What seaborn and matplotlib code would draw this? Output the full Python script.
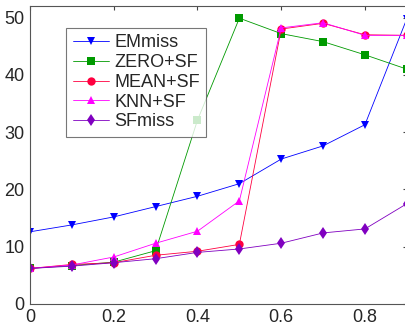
import matplotlib
matplotlib.use("Agg")
import matplotlib.pyplot as plt
import seaborn as sns
import pandas as pd

# missing rate on the x axis
rates = [0, 0.1, 0.2, 0.3, 0.4, 0.5, 0.6, 0.7, 0.8, 0.9]

em_miss = [12.6, 13.8, 15.2, 17.0, 18.8, 21.0, 25.3, 27.6, 31.3, 49.8]
zero_sf = [6.2, 6.7, 7.3, 9.3, 32.1, 49.9, 47.2, 45.8, 43.5, 41.0]
mean_sf = [6.2, 6.9, 7.2, 8.5, 9.2, 10.4, 48.0, 49.0, 47.0, 46.9]
knn_sf = [6.2, 6.8, 8.2, 10.6, 12.7, 18.0, 48.2, 49.1, 46.9, 46.9]
sf_miss = [6.2, 6.6, 7.2, 7.9, 9.0, 9.6, 10.6, 12.4, 13.1, 17.5]

series = ["EMmiss", "ZERO+SF", "MEAN+SF", "KNN+SF", "SFmiss"]
values = [em_miss, zero_sf, mean_sf, knn_sf, sf_miss]

rows = []
for name, vals in zip(series, values):
    for x, y in zip(rates, vals):
        rows.append({"rate": x, "value": y, "method": name})
df = pd.DataFrame(rows)

palette = {"EMmiss": "#0000ff", "ZERO+SF": "#009a00", "MEAN+SF": "#ff0040",
           "KNN+SF": "#ff00ff", "SFmiss": "#8000c0"}
markers = {"EMmiss": "v", "ZERO+SF": "s", "MEAN+SF": "o",
           "KNN+SF": "^", "SFmiss": "d"}

sns.set_style("white")
plt.rcParams["font.family"] = ["Liberation Sans", "DejaVu Sans"]

fig = plt.figure(figsize=(4.06, 3.23), dpi=100)
ax = fig.add_axes([0.074, 0.059, 0.928, 0.922])

sns.lineplot(data=df, x="rate", y="value", hue="method", style="method",
             hue_order=series, style_order=series, palette=palette,
             markers=markers, dashes=False, linewidth=0.6, markersize=6,
             markeredgewidth=0, ax=ax)

ax.set_xlim(0, 0.9)
ax.set_ylim(0, 52)
ax.set_xticks([0, 0.2, 0.4, 0.6, 0.8])
ax.set_xticklabels(["0", "0.2", "0.4", "0.6", "0.8"])
ax.set_yticks([0, 10, 20, 30, 40, 50])
ax.set_xlabel("")
ax.set_ylabel("")
ax.tick_params(direction="in", length=3, labelsize=13, top=True, right=True,
               color="#444444", pad=4)
for s in ax.spines.values():
    s.set_color("#555555")
    s.set_linewidth(0.8)

leg = ax.legend(loc="upper left", bbox_to_anchor=(0.096, 0.926), fontsize=13,
                frameon=True, fancybox=False, edgecolor="#555555",
                handlelength=2.0, handletextpad=0.3, borderpad=0.35,
                labelspacing=0.15, borderaxespad=0)
leg.get_frame().set_linewidth(0.8)

fig.savefig("out.png", dpi=100)
